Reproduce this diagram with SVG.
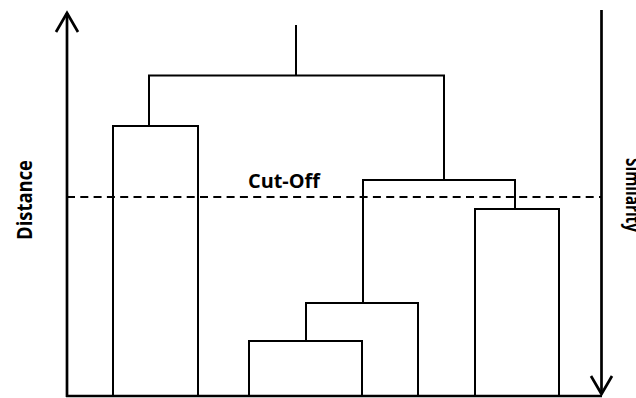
<svg xmlns="http://www.w3.org/2000/svg" width="636" height="398" viewBox="0 0 636 398">
  <style>
    .axis { fill: none; stroke: #000; stroke-width: 2.7; stroke-linecap: butt; }
    .head { fill: none; stroke: #000; stroke-width: 2.7; stroke-linejoin: miter; stroke-linecap: butt; }
    .link { fill: none; stroke: #000; stroke-width: 2; stroke-linejoin: miter; }
    .cut { fill: none; stroke: #000; stroke-width: 2; stroke-dasharray: 8 5.3; }
    .label { font-family: "Open Sans", "Liberation Sans", sans-serif; font-weight: bold; fill: #000; }
  </style>

  <rect width="636" height="398" fill="#fff"/>

  <!-- axes -->
  <g id="axes">
    <line class="axis" x1="67" y1="13" x2="67" y2="397"/>
    <polyline class="head" points="56,32 67,13 78,32"/>
    <line class="axis" x1="66" y1="396" x2="602" y2="396"/>
    <line class="axis" x1="601.5" y1="10" x2="601.5" y2="394"/>
    <polyline class="head" points="591,376 601.5,394 612,376"/>
  </g>

  <!-- dendrogram merges, each a bracket joining two branches -->
  <g id="connectors">
    <g id="root">
      <line class="link" x1="296" y1="25" x2="296" y2="75.5"/>
      <polyline class="link" points="149,126 149,75.5 444,75.5 444,180"/>
    </g>
    <g id="leaf-a">
      <polyline class="link" points="113,397 113,126 198,126 198,397"/>
    </g>
    <g id="cluster-b">
      <polyline class="link" points="363,303 363,180 515,180 515,209"/>
    </g>
    <g id="leaf-e">
      <polyline class="link" points="475,397 475,209 559,209 559,397"/>
    </g>
    <g id="cluster-c">
      <polyline class="link" points="306,341 306,303 418,303 418,397"/>
    </g>
    <g id="cluster-d">
      <polyline class="link" points="249,397 249,341 362,341 362,397"/>
    </g>
  </g>

  <!-- cut-off threshold -->
  <g id="cutoff">
    <line class="cut" x1="67" y1="197" x2="601" y2="197"/>
    <text class="label" x="248" y="188" font-size="19" textLength="72" lengthAdjust="spacingAndGlyphs">Cut-Off</text>
  </g>

  <!-- axis titles; the right one runs past the edge of the canvas -->
  <text class="label" font-size="22" transform="translate(32,240) rotate(-90)" textLength="80" lengthAdjust="spacingAndGlyphs">Distance</text>
  <text class="label" font-size="20" transform="translate(626,158) rotate(90)" textLength="74" lengthAdjust="spacingAndGlyphs">Similarity</text>
</svg>
